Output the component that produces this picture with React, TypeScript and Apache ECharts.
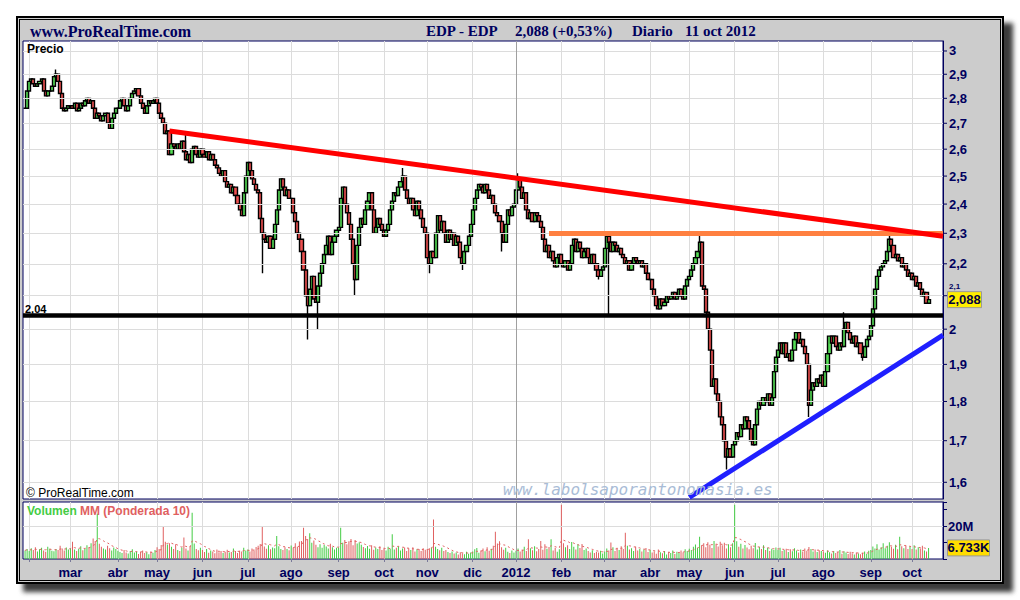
import React, { useEffect, useRef } from "react";
import * as echarts from "echarts";

// ---------- Daily closes (EDP), one array per month ----------
const closesJan2011 = [2.76, 2.83];
const closesFeb2011 = [2.87, 2.88, 2.86, 2.85, 2.86, 2.87, 2.88, 2.83, 2.81, 2.83, 2.83, 2.85, 2.89, 2.9, 2.87, 2.82, 2.76, 2.75, 2.76, 2.77];
const closesMar2011 = [2.77, 2.76, 2.78, 2.75, 2.76, 2.78, 2.77, 2.79, 2.8, 2.78, 2.79, 2.76, 2.72, 2.74, 2.73, 2.71, 2.73, 2.74, 2.7, 2.68, 2.72, 2.74, 2.76];
const closesApr2011 = [2.76, 2.79, 2.8, 2.77, 2.75, 2.77, 2.8, 2.82, 2.83, 2.84, 2.81, 2.78, 2.76, 2.74, 2.77, 2.79, 2.78, 2.79, 2.8];
const closesMay2011 = [2.78, 2.74, 2.72, 2.7, 2.66, 2.67, 2.58, 2.62, 2.61, 2.6, 2.62, 2.6, 2.63, 2.59, 2.56, 2.58, 2.55, 2.6, 2.61, 2.58, 2.57, 2.6];
const closesJun2011 = [2.58, 2.57, 2.59, 2.56, 2.58, 2.56, 2.54, 2.53, 2.51, 2.5, 2.52, 2.48, 2.46, 2.47, 2.44, 2.46, 2.43, 2.4, 2.38, 2.36, 2.44, 2.5];
const closesJul2011 = [2.55, 2.52, 2.49, 2.47, 2.45, 2.44, 2.35, 2.3, 2.28, 2.27, 2.29, 2.25, 2.28, 2.33, 2.38, 2.45, 2.49, 2.46, 2.43, 2.45, 2.42];
const closesAug2011 = [2.42, 2.37, 2.34, 2.3, 2.28, 2.24, 2.18, 2.1, 2.07, 2.12, 2.16, 2.09, 2.08, 2.13, 2.17, 2.2, 2.23, 2.26, 2.29, 2.23, 2.27, 2.29, 2.31];
const closesSep2011 = [2.32, 2.42, 2.46, 2.4, 2.37, 2.33, 2.28, 2.2, 2.15, 2.26, 2.32, 2.35, 2.33, 2.38, 2.41, 2.44, 2.38, 2.3, 2.32, 2.35, 2.33, 2.31];
const closesOct2011 = [2.29, 2.31, 2.33, 2.38, 2.41, 2.44, 2.43, 2.46, 2.48, 2.5, 2.45, 2.42, 2.4, 2.42, 2.38, 2.36, 2.41, 2.38, 2.35, 2.32, 2.3];
const closesNov2011 = [2.22, 2.2, 2.24, 2.22, 2.3, 2.36, 2.31, 2.34, 2.3, 2.27, 2.31, 2.28, 2.3, 2.26, 2.29, 2.27, 2.22, 2.2, 2.24, 2.26, 2.29, 2.33];
const closesDec2011 = [2.38, 2.42, 2.45, 2.47, 2.46, 2.44, 2.47, 2.45, 2.42, 2.43, 2.4, 2.37, 2.36, 2.34, 2.3, 2.27, 2.33, 2.38, 2.36, 2.39, 2.4];
const closesJan2012 = [2.45, 2.49, 2.46, 2.42, 2.44, 2.38, 2.35, 2.37, 2.34, 2.37, 2.36, 2.34, 2.32, 2.28, 2.24, 2.26, 2.22, 2.24, 2.21, 2.19, 2.22, 2.23];
const closesFeb2012 = [2.2, 2.19, 2.21, 2.18, 2.2, 2.26, 2.28, 2.24, 2.27, 2.25, 2.22, 2.24, 2.25, 2.22, 2.2, 2.23, 2.2, 2.18, 2.16, 2.18, 2.19];
const closesMar2012 = [2.25, 2.29, 2.27, 2.24, 2.27, 2.26, 2.24, 2.25, 2.23, 2.22, 2.2, 2.21, 2.18, 2.2, 2.22, 2.21, 2.2, 2.21, 2.19, 2.2, 2.17, 2.15];
const closesApr2012 = [2.15, 2.12, 2.1, 2.07, 2.06, 2.09, 2.07, 2.08, 2.1, 2.09, 2.1, 2.11, 2.09, 2.1, 2.12, 2.1, 2.09, 2.13, 2.15];
const closesMay2012 = [2.16, 2.18, 2.2, 2.22, 2.24, 2.27, 2.13, 2.12, 2.05, 2.0, 1.94, 1.84, 1.86, 1.82, 1.8, 1.76, 1.74, 1.7, 1.66, 1.68, 1.66, 1.69];
const closesJun2012 = [1.7, 1.72, 1.71, 1.74, 1.73, 1.76, 1.75, 1.73, 1.7, 1.69, 1.74, 1.78, 1.8, 1.79, 1.81, 1.8, 1.82, 1.79, 1.81, 1.88, 1.92];
const closesJul2012 = [1.94, 1.96, 1.93, 1.96, 1.92, 1.93, 1.91, 1.94, 1.97, 1.99, 1.96, 1.97, 1.95, 1.93, 1.9, 1.79, 1.83, 1.85, 1.84, 1.86, 1.85, 1.87];
const closesAug2012 = [1.84, 1.88, 1.93, 1.98, 1.96, 1.98, 1.95, 1.94, 1.96, 1.95, 2.0, 2.02, 1.99, 1.97, 1.96, 1.98, 1.95, 1.96, 1.93, 1.92, 1.95, 1.97, 1.98];
const closesSep2012 = [2.01, 2.06, 2.12, 2.16, 2.18, 2.19, 2.2, 2.21, 2.24, 2.28, 2.26, 2.22, 2.23, 2.21, 2.22, 2.19, 2.2, 2.18, 2.16, 2.17];
const closesOct2012 = [2.15, 2.16, 2.13, 2.14, 2.12, 2.1, 2.11, 2.077, 2.088];

// ---------- Daily volume (millions), one array per month ----------
const volJan2011 = [5.2, 6.1];
const volFeb2011 = [4.8, 6.5, 5.4, 7.2, 4.6, 5.9, 6.8, 5.1, 4.4, 7.5, 6.2, 5.0, 4.7, 6.0, 5.5, 8.1, 6.4, 5.2, 7.0, 5.8];
const volMar2011 = [6.5, 10.5, 5.7, 4.9, 6.2, 7.8, 5.3, 6.0, 8.4, 7.1, 9.6, 12.4, 11.0, 27.5, 9.2, 7.4, 6.3, 5.8, 8.1, 6.6, 5.2, 7.0, 6.1];
const volApr2011 = [5.0, 4.2, 3.6, 5.4, 4.0, 3.3, 4.8, 5.9, 3.9, 4.5, 3.1, 4.4, 5.2, 3.7, 4.1, 2.9, 4.6, 3.8, 5.5];
const volMay2011 = [7.2, 6.0, 8.5, 20.0, 10.4, 8.8, 9.6, 7.4, 6.1, 8.9, 5.5, 4.8, 7.0, 13.0, 6.3, 5.1, 7.7, 28.0, 9.4, 6.0, 5.3, 6.8];
const volJun2011 = [5.4, 4.3, 6.0, 3.8, 5.1, 4.6, 3.5, 5.7, 4.1, 4.9, 3.6, 4.4, 5.6, 3.9, 4.2, 6.3, 4.8, 3.7, 5.0, 4.5, 6.9, 5.2];
const volJul2011 = [5.8, 4.6, 6.4, 5.1, 7.3, 8.0, 9.1, 20.0, 7.6, 6.2, 8.4, 5.9, 7.0, 6.5, 14.0, 7.8, 6.1, 5.4, 7.2, 6.0, 5.3];
const volAug2011 = [8.2, 6.9, 9.5, 7.4, 10.6, 11.0, 19.0, 14.0, 12.1, 15.6, 9.8, 11.3, 8.6, 7.2, 9.0, 6.8, 8.5, 7.6, 6.4, 9.2, 7.1, 5.8, 6.9];
const volSep2011 = [7.0, 19.0, 9.8, 11.6, 8.9, 10.8, 12.2, 8.3, 11.5, 9.4, 10.1, 8.6, 7.3, 6.5, 7.9, 6.2, 8.3, 5.6, 7.0, 6.1, 7.7, 5.4];
const volOct2011 = [6.4, 5.2, 7.5, 6.0, 15.0, 5.7, 6.9, 7.8, 5.1, 6.3, 7.0, 4.8, 6.6, 5.4, 7.2, 4.5, 5.9, 6.1, 4.9, 6.5, 5.6];
const volNov2011 = [5.8, 6.6, 7.0, 24.0, 7.4, 6.0, 5.3, 6.8, 4.9, 5.5, 4.2, 3.7, 4.6, 3.3, 3.9, 2.8, 4.1, 3.5, 2.9, 4.4, 3.2, 4.0];
const volDec2011 = [4.5, 5.9, 6.7, 3.8, 5.2, 6.4, 4.7, 7.1, 5.0, 6.2, 8.0, 16.5, 9.4, 10.8, 7.2, 5.6, 6.9, 4.4, 3.6, 5.1, 4.0];
const volJan2012 = [5.0, 6.3, 4.6, 5.8, 7.4, 4.9, 12.0, 6.5, 5.3, 7.8, 4.7, 6.0, 11.0, 5.6, 8.9, 6.2, 7.3, 12.0, 5.1, 6.8, 4.4, 5.9];
const volFeb2012 = [33.0, 9.6, 7.2, 8.4, 6.0, 10.3, 7.5, 5.8, 8.9, 6.7, 9.1, 5.5, 6.4, 4.8, 4.0, 5.3, 3.6, 4.4, 3.9, 5.0, 3.4];
const volMar2012 = [4.6, 6.3, 5.1, 10.0, 7.2, 4.8, 6.9, 5.5, 7.8, 6.0, 16.0, 8.1, 5.7, 6.6, 4.9, 7.4, 5.2, 6.1, 4.5, 5.8, 6.7, 4.3];
const volApr2012 = [5.4, 3.9, 4.7, 3.2, 5.8, 4.1, 3.5, 4.9, 2.8, 4.3, 3.7, 5.1, 3.0, 4.4, 3.6, 5.2, 4.0, 5.9, 4.8];
const volMay2012 = [6.2, 5.5, 7.4, 8.8, 6.9, 13.5, 8.2, 9.5, 7.1, 10.2, 8.6, 6.7, 11.0, 9.0, 7.6, 10.5, 8.3, 9.8, 6.4, 8.9, 7.2, 9.6];
const volJun2012 = [33.0, 10.8, 7.4, 9.2, 6.3, 8.5, 7.0, 5.9, 8.1, 6.6, 9.7, 5.8, 7.3, 6.0, 8.4, 5.4, 6.8, 4.9, 6.2, 5.5, 7.0];
const volJul2012 = [5.6, 6.9, 4.8, 5.5, 6.2, 4.3, 5.9, 4.7, 6.5, 5.2, 3.9, 5.8, 4.6, 6.4, 5.0, 7.3, 6.1, 4.5, 5.7, 4.2, 5.3, 4.8];
const volAug2012 = [4.6, 3.8, 5.2, 4.1, 3.4, 4.9, 3.6, 4.3, 5.5, 3.2, 4.7, 3.9, 3.0, 4.4, 3.5, 2.8, 4.0, 3.3, 2.9, 3.8, 4.5, 3.1, 5.0];
const volSep2012 = [5.4, 7.6, 6.3, 8.9, 5.8, 7.1, 9.6, 6.5, 8.0, 10.2, 7.4, 6.2, 8.7, 5.9, 13.5, 7.8, 6.6, 8.1, 6.0, 7.5];
const volOct2012 = [6.1, 8.4, 5.7, 7.2, 6.4, 8.0, 5.2, 4.6, 6.733];

const priceMonths = [
  closesJan2011, closesFeb2011, closesMar2011, closesApr2011, closesMay2011, closesJun2011, closesJul2011,
  closesAug2011, closesSep2011, closesOct2011, closesNov2011, closesDec2011, closesJan2012, closesFeb2012,
  closesMar2012, closesApr2012, closesMay2012, closesJun2012, closesJul2012, closesAug2012, closesSep2012, closesOct2012,
];
const volumeMonths = [
  volJan2011, volFeb2011, volMar2011, volApr2011, volMay2011, volJun2011, volJul2011,
  volAug2011, volSep2011, volOct2011, volNov2011, volDec2011, volJan2012, volFeb2012,
  volMar2012, volApr2012, volMay2012, volJun2012, volJul2012, volAug2012, volSep2012, volOct2012,
];
const monthLabels = ["", "", "mar", "abr", "may", "jun", "jul", "ago", "sep", "oct", "nov", "dic", "2012", "feb", "mar", "abr", "may", "jun", "jul", "ago", "sep", "oct"];
const monthYears = [2011, 2011, 2011, 2011, 2011, 2011, 2011, 2011, 2011, 2011, 2011, 2011, 2012, 2012, 2012, 2012, 2012, 2012, 2012, 2012, 2012, 2012];

// wick extremes [bar slot, value]
const wickHighs = [[16, 2.92], [79, 2.66], [184, 2.53], [240, 2.51], [328, 2.3], [398, 2.05], [420, 2.3]];
const wickLows = [[116, 2.17], [138, 1.97], [143, 2.0], [161, 2.1], [197, 2.17], [213, 2.18], [232, 2.24], [279, 2.15], [284, 2.04], [341, 1.63], [381, 1.76], [407, 1.91]];

const priceTicks = [3, 2.9, 2.8, 2.7, 2.6, 2.5, 2.4, 2.3, 2.2, 2.1, 2, 1.9, 1.8, 1.7, 1.6];
const supportLevel = 2.04;
const resistanceLevel = 2.3;
const resistanceFrom = 255;
const downTrend = [[71, 2.67], [446, 2.29]];
const upTrend = [[323, 1.565], [446, 1.983]];
const volumeGridLevel = 20;
const lastPrice = 2.088;
const lastPriceLabel = "2,088";
const lastVolume = 6.733;
const lastVolumeLabel = "6.733K";

const FIRST_SLOT = 1;
const N_SLOTS = 447;
const NAVY = "#00005e";
const UP = "#55dd55";
const DOWN = "#ee5050";
const VOL_UP = "#44cc44";
const VOL_DOWN = "#e06060";
const SANS = '"Liberation Sans", Arial, Helvetica, sans-serif';
const SERIF = '"Liberation Serif", "Times New Roman", serif';
const MONO = '"DejaVu Sans Mono", monospace';

const fmt = (v: number) => String(v).replace(".", ",");

function buildData() {
  const closes: number[] = [];
  const vols: number[] = [];
  const starts: { slot: number; label: string; year: number }[] = [];
  let s = FIRST_SLOT;
  priceMonths.forEach((m, mi) => {
    if (mi > 0) starts.push({ slot: s, label: monthLabels[mi], year: monthYears[mi] });
    closes.push(...m);
    vols.push(...volumeMonths[mi]);
    s += m.length;
  });
  const labelAt: string[] = new Array(N_SLOTS).fill("");
  const cats: string[] = [];
  for (let i = 0; i < N_SLOTS; i++) cats.push("d" + i);
  starts.forEach((st) => {
    labelAt[st.slot] = st.label;
    cats[st.slot] = (st.label || "feb") + " " + st.year;
  });
  const hi = new Map<number, number>(wickHighs.map((w) => [w[0], w[1]] as [number, number]));
  const lo = new Map<number, number>(wickLows.map((w) => [w[0], w[1]] as [number, number]));
  const candles: number[][] = [];
  const volItems: any[] = [];
  closes.forEach((c, i) => {
    const slot = FIRST_SLOT + i;
    const o = i === 0 ? c : closes[i - 1];
    let h = Math.max(o, c);
    let l = Math.min(o, c);
    if (hi.has(slot)) h = Math.max(h, hi.get(slot) as number);
    if (lo.has(slot)) l = Math.min(l, lo.get(slot) as number);
    candles.push([slot, o, c, l, h]);
    volItems.push({ value: [slot, vols[i]], itemStyle: { color: c >= o ? VOL_UP : VOL_DOWN } });
  });
  // weighted moving average, 10 periods (weights 10..1)
  const ma: number[][] = [];
  vols.forEach((_, i) => {
    let num = 0;
    let den = 0;
    for (let j = 0; j < 10 && i - j >= 0; j++) {
      const w = 10 - j;
      num += w * vols[i - j];
      den += w;
    }
    ma.push([FIRST_SLOT + i, num / den]);
  });
  const gridSlots = new Set(starts.map((st) => st.slot));
  const labelSlots = new Set(starts.filter((st) => st.label).map((st) => st.slot));
  const yearSlot = (starts.find((st) => st.label === "2012") as any).slot;
  return { cats, labelAt, candles, volItems, ma, gridSlots, labelSlots, yearSlot };
}

export default function App() {
  const ref = useRef<HTMLDivElement>(null);
  useEffect(() => {
    if (!ref.current) return;
    const chart = echarts.init(ref.current, null, { renderer: "svg", width: 1020, height: 600 });
    const d = buildData();
    const c = (slot: number) => d.cats[slot];
    const option: any = {
      animation: false,
      backgroundColor: "transparent",
      grid: [
        { left: 23, top: 41, width: 920, height: 458, show: true, backgroundColor: "#ffffff", borderColor: NAVY, borderWidth: 1, containLabel: false, outerBoundsMode: "none" },
        { left: 23, top: 502, width: 920, height: 57, show: true, backgroundColor: "#ffffff", borderColor: NAVY, borderWidth: 1, containLabel: false, outerBoundsMode: "none" },
      ],
      xAxis: [
        {
          type: "category", gridIndex: 0, data: d.cats, boundaryGap: false,
          axisLine: { show: false }, axisTick: { show: false }, axisLabel: { show: false },
          splitLine: { show: true, interval: (i: number) => d.gridSlots.has(i), lineStyle: { color: "#dcdcdc", width: 1 } },
        },
        {
          type: "category", gridIndex: 1, data: d.cats, boundaryGap: false,
          axisLine: { show: false },
          axisTick: { show: true, interval: (i: number) => d.gridSlots.has(i), length: 3, lineStyle: { color: "#7a7a9a" } },
          axisLabel: {
            show: true, interval: (i: number) => d.labelSlots.has(i), formatter: (_v: string, i: number) => d.labelAt[i],
            color: NAVY, fontWeight: "bold", fontSize: 13, fontFamily: SANS, margin: 7,
          },
          splitLine: { show: true, interval: (i: number) => d.gridSlots.has(i), lineStyle: { color: "#dcdcdc", width: 1 } },
        },
      ],
      yAxis: [
        {
          type: "log", logBase: 10, gridIndex: 0, position: "right", min: 1.5615, max: 3.044,
          axisLine: { show: true, lineStyle: { color: NAVY } }, axisTick: { show: false }, axisLabel: { show: false }, splitLine: { show: false },
        },
        {
          type: "value", gridIndex: 1, position: "right", min: 0, max: 34.6, interval: 10,
          axisLine: { show: true, lineStyle: { color: NAVY } },
          axisTick: { show: true, length: 4, lineStyle: { color: NAVY } },
          axisLabel: { formatter: (v: number) => (v === volumeGridLevel ? "20M" : ""), color: NAVY, fontWeight: "bold", fontSize: 13, fontFamily: SANS, margin: 5 },
          splitLine: { show: false },
        },
      ],
      series: [
        {
          type: "line", xAxisIndex: 0, yAxisIndex: 0, data: [], z: 1, silent: true,
          markLine: {
            silent: true, symbol: ["none", "none"], animation: false, label: { show: false },
            lineStyle: { color: "#dcdcdc", width: 1, type: "solid" },
            data: [
              ...priceTicks.map((v) => ({ yAxis: v })),
              { xAxis: c(d.yearSlot), lineStyle: { color: "#a0a0a0", width: 1, type: "solid" } },
            ],
          },
        },
        {
          type: "candlestick", xAxisIndex: 0, yAxisIndex: 0, z: 3,
          data: d.candles, encode: { x: 0, y: [1, 2, 3, 4] }, barWidth: 3.6,
          itemStyle: { color: UP, color0: DOWN, borderColor: "#000", borderColor0: "#000", borderWidth: 1.4 },
        },
        {
          type: "line", xAxisIndex: 0, yAxisIndex: 0, data: [], z: 5, silent: true,
          markLine: {
            silent: true, symbol: ["none", "none"], animation: false, label: { show: false },
            data: [
              { yAxis: supportLevel, lineStyle: { color: "#000000", width: 4.5, type: "solid" } },
              [
                { coord: [c(resistanceFrom), resistanceLevel], lineStyle: { color: "#ff8040", width: 5, type: "solid" } },
                { coord: [c(N_SLOTS - 1), resistanceLevel] },
              ],
              [
                { coord: [c(downTrend[0][0]), downTrend[0][1]], lineStyle: { color: "#ff0000", width: 5, type: "solid" } },
                { coord: [c(downTrend[1][0]), downTrend[1][1]] },
              ],
              [
                { coord: [c(upTrend[0][0]), upTrend[0][1]], lineStyle: { color: "#1f1fff", width: 5, type: "solid" } },
                { coord: [c(upTrend[1][0]), upTrend[1][1]] },
              ],
            ],
          },
        },
        {
          type: "line", xAxisIndex: 1, yAxisIndex: 1, data: [], z: 1, silent: true,
          markLine: {
            silent: true, symbol: ["none", "none"], animation: false, label: { show: false },
            data: [
              { yAxis: volumeGridLevel, lineStyle: { color: "#dcdcdc", width: 1, type: "solid" } },
              { xAxis: c(d.yearSlot), lineStyle: { color: "#a0a0a0", width: 1, type: "solid" } },
            ],
          },
        },
        { type: "bar", xAxisIndex: 1, yAxisIndex: 1, data: d.volItems, barWidth: 1, z: 3, silent: true },
        {
          type: "line", xAxisIndex: 1, yAxisIndex: 1, data: d.ma, symbol: "none", z: 4, silent: true,
          lineStyle: { color: "#e06060", width: 1, type: [2, 3] },
        },
      ],
    };
    chart.setOption(option);

    const yP = (v: number) => chart.convertToPixel({ yAxisIndex: 0 } as any, v) as unknown as number;
    const yV = (v: number) => chart.convertToPixel({ yAxisIndex: 1 } as any, v) as unknown as number;
    const txt = (id: string, x: number, y: number, text: string, font: string, fill: string, align = "left") => ({
      type: "text", id, x, y, silent: true, z: 100,
      style: { text, font, fill, textAlign: align, textVerticalAlign: "middle" },
    });
    const g: any[] = [];
    const yl = yP(lastPrice);
    priceTicks.forEach((v, i) => {
      const y = yP(v);
      g.push({ type: "line", id: "tk" + i, silent: true, z: 100, shape: { x1: 943, y1: y, x2: 947, y2: y }, style: { stroke: NAVY, lineWidth: 1 } });
      // the tick label right under the last-price box is shown only above the box, as in the reference
      const under = Math.abs(y - yl) < 10;
      g.push(txt("tl" + i, 949, under ? yl - 13 : y, fmt(v), (under ? "bold 8px " : "bold 13px ") + SANS, NAVY));
    });
    g.push(txt("site", 30, 31, "www.ProRealTime.com", "bold 16px " + SERIF, NAVY));
    g.push(txt("t1", 426, 31, "EDP - EDP", "bold 15px " + SERIF, NAVY));
    g.push(txt("t2", 515, 31, "2,088 (+0,53%)", "bold 15px " + SERIF, NAVY));
    g.push(txt("t3", 632, 31, "Diario", "bold 15px " + SERIF, NAVY));
    g.push(txt("t4", 685, 31, "11 oct 2012", "bold 15px " + SERIF, NAVY));
    g.push(txt("precio", 27, 49, "Precio", "bold 12px " + SANS, "#000"));
    g.push(txt("copy", 26, 493, "© ProRealTime.com", "12px " + SANS, "#000"));
    g.push(txt("wm", 503, 489, "www.labolsaporantonomasia.es", "italic 16px " + MONO, "#a9bcd6"));
    g.push(txt("vol", 27, 511, "Volumen", "bold 12px " + SANS, VOL_UP));
    g.push(txt("mm", 80, 511, "MM (Ponderada 10)", "bold 12px " + SANS, VOL_DOWN));
    g.push(txt("sup", 25, yP(supportLevel) - 7, fmt(supportLevel), "bold 11px " + SANS, "#000"));
    g.push({ type: "rect", id: "pbox", silent: true, z: 101, shape: { x: 947.5, y: yl - 8, width: 34, height: 16 }, style: { fill: "#ffee00", stroke: "#999999", lineWidth: 1 } });
    g.push({ ...txt("ptxt", 964.5, yl, lastPriceLabel, "bold 13px " + SANS, "#000040", "center"), z: 102 });
    const yvl = yV(lastVolume);
    g.push({ type: "rect", id: "vbox", silent: true, z: 101, shape: { x: 947.5, y: yvl - 8, width: 42, height: 16 }, style: { fill: "#ffdd00", stroke: "#999999", lineWidth: 1 } });
    g.push({ ...txt("vtxt", 968.5, yvl, lastVolumeLabel, "bold 13px " + SANS, "#000040", "center"), z: 102 });
    chart.setOption({ graphic: g });

    return () => chart.dispose();
  }, []);

  return (
    <div style={{ position: "fixed", left: 0, top: 0, width: 1020, height: 600, background: "#ffffff", overflow: "hidden" }}>
      <div style={{ position: "absolute", left: 23, top: 23, width: 990, height: 569, background: "#3a3a3a", filter: "blur(2.5px)" }} />
      <div style={{ position: "absolute", left: 16, top: 16, width: 988, height: 568, boxSizing: "border-box", background: "#cccccc", border: "2px solid #000" }}>
        <div style={{ position: "absolute", left: 1, top: 1, right: 1, bottom: 1, border: "1px solid #000" }} />
      </div>
      <div ref={ref} style={{ position: "absolute", left: 0, top: 0, width: 1020, height: 600 }} />
    </div>
  );
}
